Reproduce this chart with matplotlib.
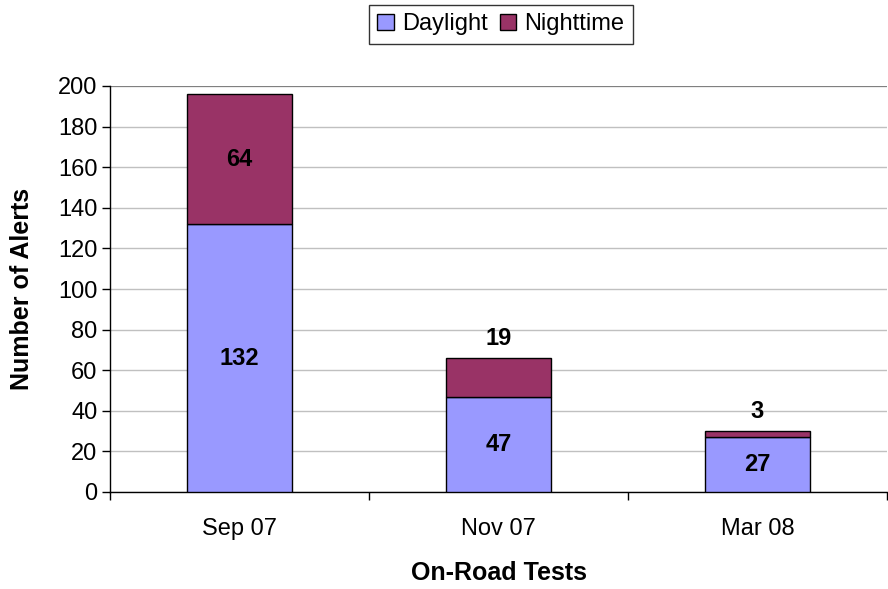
import matplotlib
matplotlib.use("Agg")
import matplotlib.pyplot as plt
from matplotlib.ticker import FixedLocator

categories = ["Sep 07", "Nov 07", "Mar 08"]
daylight = [132, 47, 27]
nighttime = [64, 19, 3]

plt.rcParams['font.family'] = ['Liberation Sans', 'DejaVu Sans']

fig = plt.figure(figsize=(8.88, 5.89), dpi=100)
ax = fig.add_axes([110/888, 1-492/589, 777/888, 406/589])

x = list(range(len(categories)))
w = 0.405
ax.bar(x, daylight, w, color='#9999FF', edgecolor='black', linewidth=1, label='Daylight', zorder=3)
ax.bar(x, nighttime, w, bottom=daylight, color='#993366', edgecolor='black', linewidth=1, label='Nighttime', zorder=3)

ax.set_xlim(-0.5, 2.5)
ax.set_ylim(0, 200)
ax.set_yticks(range(0, 201, 20))
ax.yaxis.grid(True, color='#c0c0c0', linewidth=1, zorder=0)
ax.set_axisbelow(True)

ax.set_xticks(x)
ax.set_xticklabels(categories, fontsize=17)
ax.tick_params(axis='x', length=0, pad=19)
ax.xaxis.set_minor_locator(FixedLocator([-0.5, 0.5, 1.5, 2.5]))
ax.tick_params(axis='x', which='minor', length=6, width=1, direction='out')
ax.tick_params(axis='y', labelsize=17, length=6, width=1, direction='out', pad=3)

for s in ['top', 'right']:
    ax.spines[s].set_visible(False)
ax.axhline(200, color='#808080', linewidth=1.5, zorder=1)
ax.spines['left'].set_linewidth(1)
ax.spines['bottom'].set_linewidth(1)

ax.set_xlabel("On-Road Tests", fontsize=18, fontweight='bold', labelpad=15)
ax.set_ylabel("Number of Alerts", fontsize=18, fontweight='bold')
ax.yaxis.set_label_coords((34 - 110) / 777, 0.5)

# data labels
for i in range(len(categories)):
    d = daylight[i]; n = nighttime[i]
    ax.text(i, d/2, str(d), ha='center', va='center', fontsize=17, fontweight='bold', zorder=4)
    if n >= 20:
        ax.text(i, d + n/2, str(n), ha='center', va='center', fontsize=17, fontweight='bold', zorder=4)
    else:
        ax.text(i, d + n + 4, str(n), ha='center', va='bottom', fontsize=17, fontweight='bold', zorder=4)

leg = fig.legend(loc='upper center', bbox_to_anchor=(501/888, 1-5/589), ncol=2, fontsize=17,
                 frameon=True, fancybox=False, edgecolor='black', handlelength=0.7, handleheight=0.7,
                 handletextpad=0.35, columnspacing=0.5, borderpad=0.35, borderaxespad=0)
leg.get_frame().set_linewidth(1)

fig.savefig("out.png", dpi=100)
